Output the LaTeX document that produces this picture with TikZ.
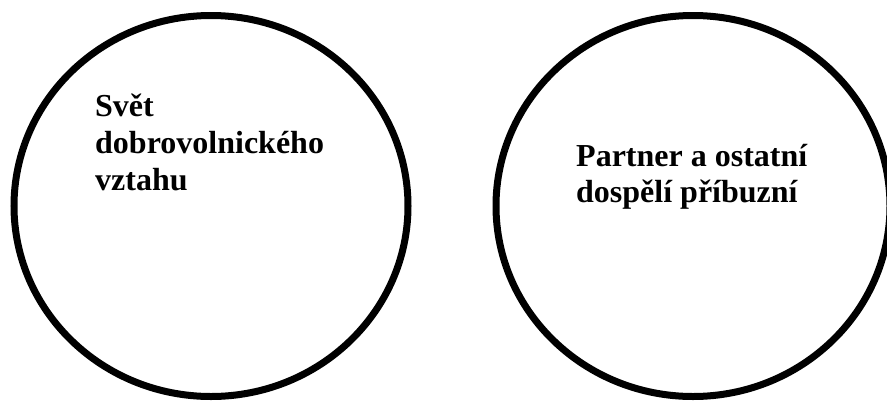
\documentclass[tikz,border=0pt]{standalone}
\usepackage{fontspec}
\setmainfont{Liberation Serif}
\usetikzlibrary{shapes.geometric}
\begin{document}
\begin{tikzpicture}[x=1pt,y=-1pt,
  bubble/.style={draw=black, line width=7pt, ellipse, inner sep=0pt,
    minimum width=394pt, minimum height=381pt},
  label/.style={anchor=base west, inner sep=0pt, align=left,
    font=\fontsize{32}{37}\selectfont\bfseries}]
\clip (0,0) rectangle (887,400);
\node[bubble] (left) at (211,206) {};
\node[bubble] (right) at (693,206) {};
\node[label] (lefttext) at (95,190) {Svět\\dobrovolnického\\vztahu};
\node[label, font=\fontsize{32}{36}\selectfont\bfseries] (righttext) at (576,202) {Partner a ostatní\\dospělí příbuzní};
\end{tikzpicture}
\end{document}
